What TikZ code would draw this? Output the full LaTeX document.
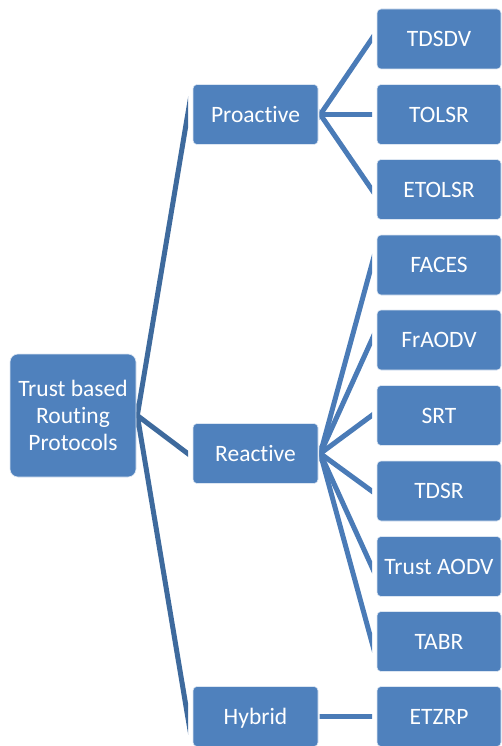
\documentclass[tikz,border=0pt]{standalone}
\usepackage{fontspec}
\setmainfont{Carlito}[Ligatures=NoCommon]
\usetikzlibrary{calc}
\definecolor{boxblue}{HTML}{4F81BD}
\definecolor{trunkcol}{HTML}{3E6A9D}
\definecolor{branchcol}{HTML}{4A7BB7}
\tikzset{
  basebox/.style={fill=boxblue, draw=white!80!boxblue, line width=0.6pt,
    rounded corners=4pt, text=white, font=\fontsize{23.5}{27}\selectfont,
    minimum width=124pt, minimum height=60pt, inner sep=0pt, align=center},
  box/.style={basebox, text height=17.5pt, text depth=2.3pt},
  rootbox/.style={basebox, rounded corners=8pt, minimum width=126pt, minimum height=123pt},
  midbox/.style={box, minimum width=125pt},
  trunk/.style={draw=trunkcol, line width=5pt, shorten <=-12pt, shorten >=-40pt},
  branch/.style={draw=branchcol, line width=5pt, shorten <=-8pt, shorten >=-30pt},
}
\begin{document}
\begin{tikzpicture}[x=1pt, y=-1pt]
  \useasboundingbox (0,0) rectangle (501,746);

  % root
  \node[rootbox] (root) at (73,415.5) {Trust based\\Routing\\Protocols};

  % second level
  \node[midbox] (pro) at (255.5,114.5) {Proactive};
  \node[midbox] (rea) at (255.5,453.5) {Reactive};
  \node[midbox] (hyb) at (255.5,716.5) {Hybrid};

  % leaves
  \node[box] (tdsdv)  at (439,39)    {TDSDV};
  \node[box] (tolsr)  at (439,114.5) {TOLSR};
  \node[box] (etolsr) at (439,189.5) {ETOLSR};
  \node[box] (faces)  at (439,265)   {FACES};
  \node[box] (fraodv) at (439,340)   {FrAODV};
  \node[box] (srt)    at (439,415.5) {SRT};
  \node[box] (tdsr)   at (439,491)   {TDSR};
  \node[box] (taodv)  at (439,566.5) {Trust AODV};
  \node[box] (tabr)   at (439,641.5) {TABR};
  \node[box] (etzrp)  at (439,716.5) {ETZRP};

  % connector hubs
  \coordinate (root-out) at ($(root.east)+(1,0)$);
  \coordinate (pro-out) at ($(pro.east)+(2,0)$);
  \coordinate (rea-out) at ($(rea.east)+(2,0)$);
  \coordinate (hyb-out) at ($(hyb.east)+(2,0)$);

  % trunk connectors, cut square at both ends
  \begin{scope}
    \clip (136.5,0) rectangle (188,746);
    \foreach \c in {pro,rea,hyb}
      \draw[trunk] (root-out) -- ($(\c.west)+(-5,0)$);
  \end{scope}

  % branch connectors
  \begin{scope}
    \clip (319.5,0) rectangle (372,746);
    \foreach \c in {tdsdv,tolsr,etolsr}
      \draw[branch] (pro-out) -- ($(\c.west)+(-5,0)$);
    \foreach \c in {faces,fraodv,srt,tdsr,taodv,tabr}
      \draw[branch] (rea-out) -- ($(\c.west)+(-5,0)$);
    \draw[branch] (hyb-out) -- ($(etzrp.west)+(-5,0)$);
  \end{scope}
\end{tikzpicture}
\end{document}
